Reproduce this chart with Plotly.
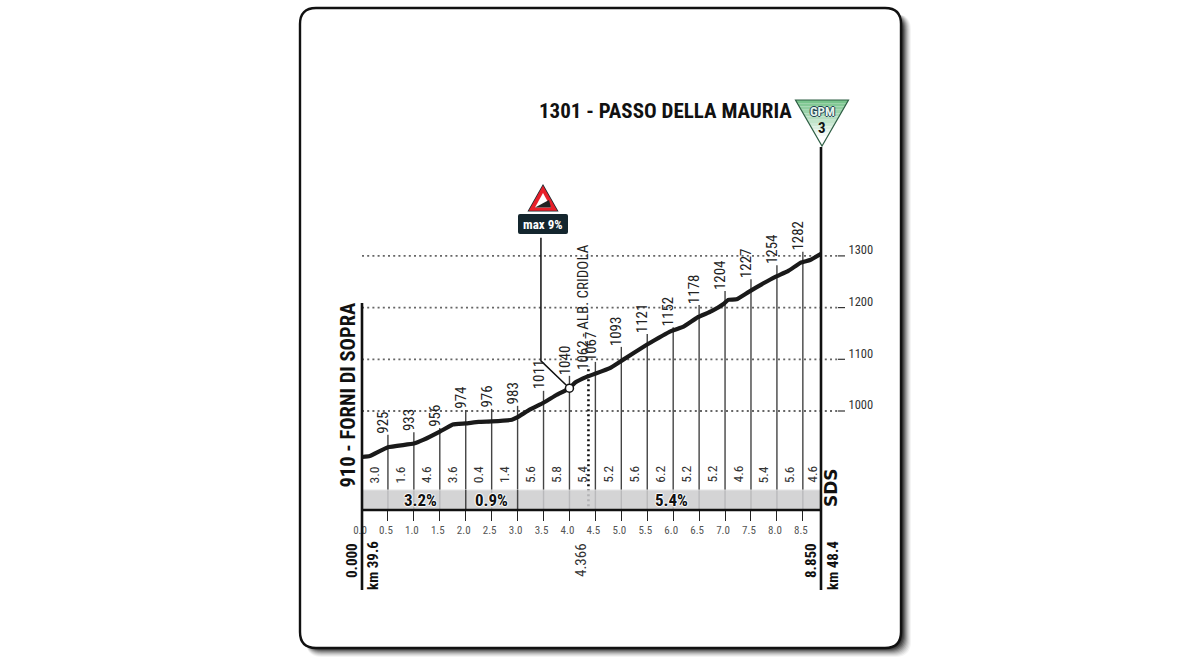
import plotly.graph_objects as go

# ---------- data ----------
profile_km = [0, 0.15, 0.5, 1.0, 1.18, 1.5, 1.75, 2.0, 2.25, 2.5, 2.89, 3.0, 3.24, 3.5, 3.75, 4.0, 4.11, 4.33, 4.78,
              5.0, 5.49, 5.97, 6.2, 6.47, 6.74, 6.97, 7.06, 7.22, 7.45, 7.74, 7.96, 8.22, 8.46, 8.64, 8.85]
profile_elev = [911, 913, 930, 937, 944, 960, 974, 976, 979, 980, 983, 988, 1003, 1016, 1031, 1044, 1055, 1066, 1083,
                1097, 1128, 1155, 1163, 1181, 1193, 1207, 1215, 1216, 1230, 1247, 1259, 1271, 1287, 1292, 1304]
tick_km = [0.5, 1.0, 1.5, 2.0, 2.5, 3.0, 3.5, 4.0, 4.5, 5.0, 5.5, 6.0, 6.5, 7.0, 7.5, 8.0, 8.5]
tick_labels = ["925", "933", "956", "974", "976", "983", "1011", "1040", "1067", "1093", "1121", "1152", "1178",
               "1204", "1227", "1254", "1282"]
tick_tops = [954, 959, 967, 1002, 1004, 1010, 1039, 1068, 1095, 1124, 1149, 1162, 1205, 1232, 1255, 1282, 1308]
seg_mid_km = [0.25, 0.75, 1.25, 1.75, 2.25, 2.75, 3.25, 3.75, 4.25, 4.75, 5.25, 5.75, 6.25, 6.75, 7.25, 7.75, 8.25, 8.68]
seg_grades = ["3.0", "1.6", "4.6", "3.6", "0.4", "1.4", "5.6", "5.8", "5.4", "5.2", "5.6", "6.2", "5.2", "5.2", "4.6",
              "5.4", "5.6", "4.6"]
section_km = [1.12, 2.5, 5.96]
section_grades = ["3.2%", "0.9%", "5.4%"]
section_breaks = [2.0, 3.0]
x_ticks = [0, 0.5, 1, 1.5, 2, 2.5, 3, 3.5, 4, 4.5, 5, 5.5, 6, 6.5, 7, 7.5, 8, 8.5]
x_tick_text = ["0.0", "0.5", "1.0", "1.5", "2.0", "2.5", "3.0", "3.5", "4.0", "4.5", "5.0", "5.5", "6.0", "6.5", "7.0",
               "7.5", "8.0", "8.5"]
elev_levels = [1000, 1100, 1200, 1300]
sprint_km = 4.366
steep_km = 4.0
steep_elev = 1044
leader_km = [4.0, 3.45, 3.45]
leader_elev = [1044, 1097, 1335]
END_KM = 8.85
BASE = 808.5

NARROW = "Roboto Condensed, Roboto, sans-serif"
L, R, T, B = 362, 821, 100, 510
TOP = 1000 + (411 - T) / 0.517


def X(px):
    return (px - L) / (R - L)


def Y(py):
    return (B - py) / (B - T)


def rounded(x0, y0, x1, y1, r):
    return (f"M{X(x0+r)},{Y(y0)} L{X(x1-r)},{Y(y0)} Q{X(x1)},{Y(y0)} {X(x1)},{Y(y0+r)} "
            f"L{X(x1)},{Y(y1-r)} Q{X(x1)},{Y(y1)} {X(x1-r)},{Y(y1)} L{X(x0+r)},{Y(y1)} "
            f"Q{X(x0)},{Y(y1)} {X(x0)},{Y(y1-r)} L{X(x0)},{Y(y0+r)} Q{X(x0)},{Y(y0)} {X(x0+r)},{Y(y0)} Z")


def poly(pts):
    return "M" + " L".join(f"{X(a)},{Y(b)}" for a, b in pts) + " Z"


shapes = []
# panel shadow
for i, op in zip(range(9, 0, -1), [0.05, 0.07, 0.09, 0.12, 0.16, 0.2, 0.28, 0.38, 0.5]):
    shapes.append(dict(type="path", xref="paper", yref="paper", layer="below", path=rounded(306, 14, 902 + i, 648 + i, 16),
                       fillcolor=f"rgba(30,30,30,{op})", line_width=0))
shapes.append(dict(type="path", xref="paper", yref="paper", layer="below", path=rounded(300, 8, 901, 648, 16),
                   fillcolor="white", line=dict(color="#111", width=2.4)))
# dotted elevation grid
for lv in elev_levels:
    shapes.append(dict(type="line", xref="paper", yref="y", layer="below", x0=0, x1=X(838), y0=lv, y1=lv,
                       line=dict(color="#666", width=1.8, dash="2px 3.2px")))
    shapes.append(dict(type="line", xref="paper", yref="y", layer="below", x0=X(838), x1=X(845), y0=lv, y1=lv,
                       line=dict(color="#333", width=1.2)))
# gradient band
shapes.append(dict(type="rect", xref="x", yref="y", layer="above", x0=0, x1=END_KM, y0=BASE, y1=BASE + 38.7,
                   fillcolor="#cdcdcf", opacity=0.86, line=dict(color="#e4e4e4", width=1)))
for k in section_breaks:
    shapes.append(dict(type="line", xref="x", yref="y", layer="above", x0=k, x1=k, y0=BASE, y1=BASE + 38.7,
                       line=dict(color="#444", width=1.4)))
# axes
for x0, y0, x1, y1 in [(L, 303, L, 590), (R, 147, R, 590), (L, B, R, B)]:
    shapes.append(dict(type="line", xref="paper", yref="paper", layer="above", x0=X(x0), x1=X(x1), y0=Y(y0), y1=Y(y1),
                       line=dict(color="#111", width=2.6)))
# GPM triangle with gradient
n = 14
apex, top, half = 146, 100, 26.5
for i in range(n):
    a = top + (apex - top) * i / n
    b = top + (apex - top) * (i + 1) / n
    ha = half * (apex - a) / (apex - top)
    hb = half * (apex - b) / (apex - top)
    t = min(1, i / (n - 3))
    col = f"rgb({int(120 + 135 * t)},{int(196 + 59 * t)},{int(140 + 115 * t)})"
    shapes.append(dict(type="path", xref="paper", yref="paper", layer="above",
                       path=poly([(822 - ha, a), (822 + ha, a), (822 + hb, b), (822 - hb, b)]),
                       fillcolor=col, line_width=0))
shapes.append(dict(type="path", xref="paper", yref="paper", layer="above",
                   path=poly([(822 - half, top), (822 + half, top), (822, apex)]),
                   fillcolor="rgba(0,0,0,0)", line=dict(color="#2f5f45", width=1.2)))
# warning sign
shapes.append(dict(type="path", xref="paper", yref="paper", layer="above",
                   path=poly([(543, 187), (556, 210), (530, 210)]), fillcolor="#e8202a",
                   line=dict(color="#1c2b30", width=3.0)))
shapes.append(dict(type="path", xref="paper", yref="paper", layer="above",
                   path=poly([(543, 187), (556, 210), (530, 210)]), fillcolor="#e8202a",
                   line=dict(color="#e8202a", width=1.4)))
shapes.append(dict(type="path", xref="paper", yref="paper", layer="above",
                   path=poly([(543, 193), (551, 207.5), (535, 207.5)]), fillcolor="white", line_width=0))
shapes.append(dict(type="path", xref="paper", yref="paper", layer="above",
                   path=poly([(551, 207.5), (535, 207.5), (549, 200)]), fillcolor="#222", line_width=0))
# max box
shapes.append(dict(type="path", xref="paper", yref="paper", layer="above", path=rounded(518, 214, 568, 234, 2),
                   fillcolor="#14262e", line_width=0))

halo = "1px 0 1px #fff, -1px 0 1px #fff, 0 1px 1px #fff, 0 -1px 1px #fff"
ann = []
for k, lab, tp in zip(tick_km, tick_labels, tick_tops):
    ann.append(dict(x=k, y=tp, xref="x", yref="y", text=lab, textangle=-90, showarrow=False, xshift=-5, yshift=-1,
                    xanchor="center", yanchor="bottom", font=dict(family=NARROW, size=15, color="#222")))
for k, lab in zip(seg_mid_km, seg_grades):
    ann.append(dict(x=k, y=BASE + 38.7 + 30, xref="x", yref="y", text=lab, textangle=-90, showarrow=False,
                    xanchor="center", yanchor="middle", font=dict(family=NARROW, size=13.5, color="#333")))
for k, lab in zip(section_km, section_grades):
    ann.append(dict(x=k, y=BASE + 19, xref="x", yref="y", text=lab, showarrow=False, xanchor="center", yanchor="middle",
                    font=dict(family=NARROW, size=17, color="#111", weight="bold", shadow=halo)))


def ptext(px, py, text, size, angle=0, bold=False, color="#111", fam=NARROW, shadow=None):
    f = dict(family=fam, size=size, color=color)
    if bold:
        f["weight"] = "bold"
    if shadow:
        f["shadow"] = shadow
    ann.append(dict(x=X(px), y=Y(py), xref="paper", yref="paper", text=text, textangle=angle, showarrow=False,
                    xanchor="center", yanchor="middle", font=f))


ptext(665.5, 111, "1301 - PASSO DELLA MAURIA", 21, bold=True)
ptext(347, 395.5, "910 - FORNI DI SOPRA", 20.5, angle=-90, bold=True)
ptext(583, 307, "1062 - ALB. CRIDOLA", 15, angle=-90, color="#222")
ptext(352, 561, "0.000", 15, angle=-90, bold=True)
ptext(373, 566, "km 39.6", 15, angle=-90, bold=True)
ptext(581, 560, "4.366", 15, angle=-90, color="#333")
ptext(811, 561, "8.850", 15, angle=-90, bold=True)
ptext(833, 566, "km 48.4", 15, angle=-90, bold=True)
ptext(543, 224, "max 9%", 13, bold=True, color="white")
ptext(822, 111.5, "GPM", 13, bold=True, color="#e8f5ec", shadow="1px 0 0 #245, -1px 0 0 #245, 0 1px 0 #245, 0 -1px 0 #245")
ptext(822, 128.5, "3", 15, bold=True)
ptext(831, 488, "SDS", 17, angle=-90, bold=True, fam="DejaVu Sans", color="#111", shadow=halo)

tx, ty = [], []
for k, tp in zip(tick_km, tick_tops):
    tx += [k, k, None]
    ty += [BASE, tp, None]

fig = go.Figure()
fig.add_trace(go.Scatter(x=tx, y=ty, mode="lines", line=dict(color="#444", width=1.4), cliponaxis=False,
                         hoverinfo="skip"))
fig.add_trace(go.Scatter(x=[sprint_km, sprint_km], y=[BASE - 22, 1087], mode="lines", cliponaxis=False,
                         line=dict(color="#111", width=2.6, dash="2px 3px"), hoverinfo="skip"))
fig.add_trace(go.Scatter(x=profile_km, y=profile_elev, mode="lines", cliponaxis=False,
                         line=dict(color="#1a1a1a", width=4.2, shape="spline", smoothing=0.3)))
fig.add_trace(go.Scatter(x=leader_km, y=leader_elev, mode="lines", cliponaxis=False,
                         line=dict(color="#111", width=1.5), hoverinfo="skip"))
fig.add_trace(go.Scatter(x=[steep_km], y=[steep_elev], mode="markers", cliponaxis=False,
                         marker=dict(size=8, color="white", line=dict(color="#111", width=1.5))))

fig.update_layout(
    width=1200, height=660, showlegend=False, paper_bgcolor="white", plot_bgcolor="rgba(0,0,0,0)",
    margin=dict(l=L, r=1200 - R, t=T, b=660 - B, pad=0), shapes=shapes, annotations=ann,
    xaxis=dict(range=[0, END_KM], tickvals=x_ticks, ticktext=x_tick_text, ticks="outside", ticklen=10, tickwidth=1.4,
               tickcolor="#222", showgrid=False, zeroline=False, showline=False, ticklabelshift=-2,
               tickfont=dict(family=NARROW, size=11, color="#555")),
    yaxis=dict(range=[BASE, TOP], side="right", tickvals=elev_levels, ticks="outside", ticklen=24,
               tickcolor="rgba(0,0,0,0)", showgrid=False, zeroline=False, showline=False, tickformat="d",
               ticklabelshift=-6, tickfont=dict(family=NARROW, size=12.5, color="#333")),
)
fig.write_html("out.html", config={"displayModeBar": False},
               post_script="document.body.style.margin='0';document.body.style.overflow='hidden';")
